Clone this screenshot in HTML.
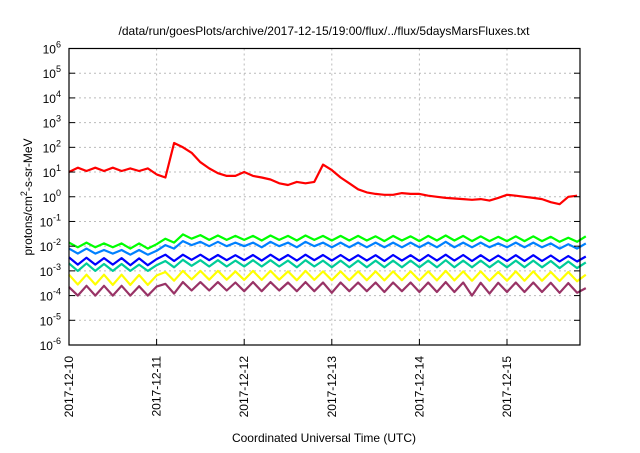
<!DOCTYPE html>
<html><head><meta charset="utf-8"><style>
body{margin:0;background:#fff}
svg text{font-family:"Liberation Sans",sans-serif;fill:#000}
</style></head><body>
<svg id="c" width="640" height="448" xmlns="http://www.w3.org/2000/svg">
<rect width="640" height="448" fill="#fff"/>
<text x="324" y="35" font-size="12" text-anchor="middle">/data/run/goesPlots/archive/2017-12-15/19:00/flux/../flux/5daysMarsFluxes.txt</text>
<text x="324" y="442" font-size="12" text-anchor="middle">Coordinated Universal Time (UTC)</text>
<text transform="translate(32,197) rotate(-90)" font-size="12" text-anchor="middle">protons/cm<tspan font-size="9" dy="-5">2</tspan><tspan dy="5">-s-sr-MeV</tspan></text>
<g id="grid"></g><g id="series"></g><g id="axes"></g>
</svg>
<script>
const xLabels=["2017-12-10","2017-12-11","2017-12-12","2017-12-13","2017-12-14","2017-12-15"];
const yExps=[-6,-5,-4,-3,-2,-1,0,1,2,3,4,5,6];
const tStep=0.1;
const red=[10,15,11,15,11,15,11,14,11,14,8,6,150,100,60,25,14,9,7,7,10,7,6,5,3.5,3,4,3.5,4,20,12,6,3.5,2,1.5,1.3,1.2,1.2,1.4,1.3,1.3,1.1,1.0,0.9,0.85,0.8,0.75,0.8,0.7,0.9,1.2,1.1,1.0,0.9,0.8,0.6,0.5,1.0,1.1];
const green=[0.014,0.009,0.014,0.009,0.013,0.009,0.013,0.008,0.013,0.008,0.012,0.02,0.014,0.03,0.02,0.028,0.018,0.027,0.018,0.026,0.018,0.026,0.017,0.027,0.018,0.026,0.017,0.027,0.018,0.026,0.017,0.026,0.017,0.026,0.017,0.025,0.016,0.026,0.017,0.025,0.016,0.026,0.017,0.027,0.017,0.026,0.016,0.025,0.016,0.024,0.016,0.025,0.016,0.025,0.016,0.024,0.015,0.022,0.015,0.025];
const lightBlue=[0.008,0.005,0.008,0.005,0.007,0.005,0.007,0.0045,0.007,0.0045,0.0065,0.011,0.008,0.016,0.011,0.015,0.01,0.015,0.01,0.014,0.01,0.014,0.009,0.015,0.01,0.014,0.009,0.015,0.01,0.014,0.009,0.014,0.009,0.014,0.009,0.014,0.009,0.014,0.009,0.014,0.009,0.014,0.009,0.015,0.009,0.014,0.009,0.014,0.009,0.013,0.009,0.014,0.009,0.014,0.009,0.013,0.008,0.012,0.008,0.013];
const blue=[0.0035,0.0018,0.0034,0.0018,0.0033,0.0018,0.0033,0.0017,0.0032,0.0017,0.003,0.0045,0.0025,0.0045,0.0028,0.0045,0.0027,0.0044,0.0027,0.0043,0.0027,0.0044,0.0026,0.0045,0.0027,0.0044,0.0026,0.0045,0.0027,0.0044,0.0026,0.0044,0.0026,0.0043,0.0026,0.0043,0.0025,0.0044,0.0026,0.0043,0.0025,0.0044,0.0026,0.0045,0.0026,0.0044,0.0025,0.0043,0.0025,0.0042,0.0025,0.0043,0.0025,0.0043,0.0025,0.0042,0.0024,0.004,0.0024,0.0038];
const teal=[0.002,0.001,0.002,0.001,0.0019,0.001,0.0019,0.001,0.0018,0.001,0.0017,0.0025,0.0014,0.0028,0.0016,0.0027,0.0015,0.0027,0.0015,0.0026,0.0015,0.0027,0.0015,0.0027,0.0015,0.0026,0.0014,0.0027,0.0015,0.0026,0.0014,0.0026,0.0014,0.0026,0.0014,0.0026,0.0014,0.0026,0.0014,0.0026,0.0014,0.0026,0.0014,0.0027,0.0014,0.0026,0.0014,0.0026,0.0014,0.0025,0.0014,0.0026,0.0014,0.0026,0.0014,0.0025,0.0013,0.0024,0.0013,0.0022];
const yellow=[0.0007,0.00028,0.0007,0.00028,0.0007,0.00027,0.0007,0.00027,0.00068,0.00027,0.00065,0.0009,0.0004,0.001,0.00045,0.001,0.00044,0.001,0.00044,0.00095,0.00043,0.001,0.00043,0.001,0.00044,0.00095,0.00042,0.001,0.00043,0.00095,0.00042,0.00095,0.00042,0.00095,0.00042,0.00095,0.00041,0.00095,0.00042,0.00095,0.00041,0.00095,0.00041,0.001,0.00041,0.00095,0.0004,0.00095,0.0004,0.0009,0.0004,0.00095,0.0004,0.00095,0.0004,0.0009,0.00039,0.0009,0.00038,0.0007];
const purple=[0.00022,0.0001,0.00025,0.0001,0.00025,0.0001,0.00025,0.0001,0.00024,0.0001,0.00023,0.0003,0.00012,0.00035,0.00016,0.00035,0.00016,0.00035,0.00016,0.00034,0.00015,0.00035,0.00015,0.00035,0.00016,0.00034,0.00015,0.00035,0.00015,0.00034,0.00013,0.00034,0.00015,0.00034,0.00015,0.00034,0.00014,0.00034,0.00015,0.00034,0.00014,0.00034,0.00014,0.00035,0.00014,0.00034,0.0001,0.00033,0.00012,0.00033,0.00014,0.00034,0.00014,0.00034,0.00014,0.00033,0.00013,0.00032,0.00013,0.0002];

const L=69,R=580,T=48.5,B=345,dayW=87.6;
const NS="http://www.w3.org/2000/svg";
const X=d=>L+d*dayW;
const Y=v=>B-(Math.log10(v)+6)/12*(B-T);
function mk(tag,attrs,parent){const e=document.createElementNS(NS,tag);for(const k in attrs)e.setAttribute(k,attrs[k]);parent.appendChild(e);return e;}
const grid=document.getElementById('grid'),ser=document.getElementById('series'),ax=document.getElementById('axes');
yExps.forEach(p=>{const y=Y(Math.pow(10,p));
 if(p>-6&&p<6){const g=mk('line',{x1:L,x2:R,y1:y,y2:y,stroke:'#bbb','stroke-dasharray':'2,3','stroke-width':1},grid);
 
 }
 const t1=mk('line',{x1:L,x2:L+6,y1:y,y2:y,stroke:'#000'},ax);
 
 
 const t2=mk('line',{x1:R-6,x2:R,y1:y,y2:y,stroke:'#000'},ax);
 
 
 const tx=mk('text',{x:L-8,y:y+5,'font-size':12,'text-anchor':'end'},ax);
 
 
 tx.innerHTML='10<tspan font-size="9" dy="-6">'+p+'</tspan>';
});
xLabels.forEach((lab,i)=>{const x=X(i);
 if(i>0){const g=mk('line',{x1:x,x2:x,y1:T,y2:B,stroke:'#bbb','stroke-dasharray':'2,3','stroke-width':1},grid);
 
 }
 const t=mk('line',{x1:x,x2:x,y1:B-6,y2:B,stroke:'#000'},ax);
 
 
 const tx=mk('text',{transform:`translate(${x+4},356) rotate(-90)`,'font-size':12,'text-anchor':'end'},ax);
 
 
 tx.textContent=lab;
});
const fr=mk('rect',{x:L,y:T,width:R-L,height:B-T,fill:'none',stroke:'#000','stroke-width':1.2},ax);


[[purple,'#993366','series-purple'],[yellow,'#ffff00','series-yellow'],[teal,'#00cc99','series-teal'],[blue,'#0000ff','series-blue'],[lightBlue,'#0080ff','series-light-blue'],[green,'#00ff00','series-green'],[red,'#ff0000','series-red']].forEach(([arr,col,name])=>{
 const pts=arr.map((v,i)=>X(i*tStep).toFixed(1)+','+Y(v).toFixed(1)).join(' ');
 const pl=mk('polyline',{points:pts,fill:'none',stroke:col,'stroke-width':2.2,'stroke-linejoin':'round'},ser);
 
 
});
</script>
</body></html>
